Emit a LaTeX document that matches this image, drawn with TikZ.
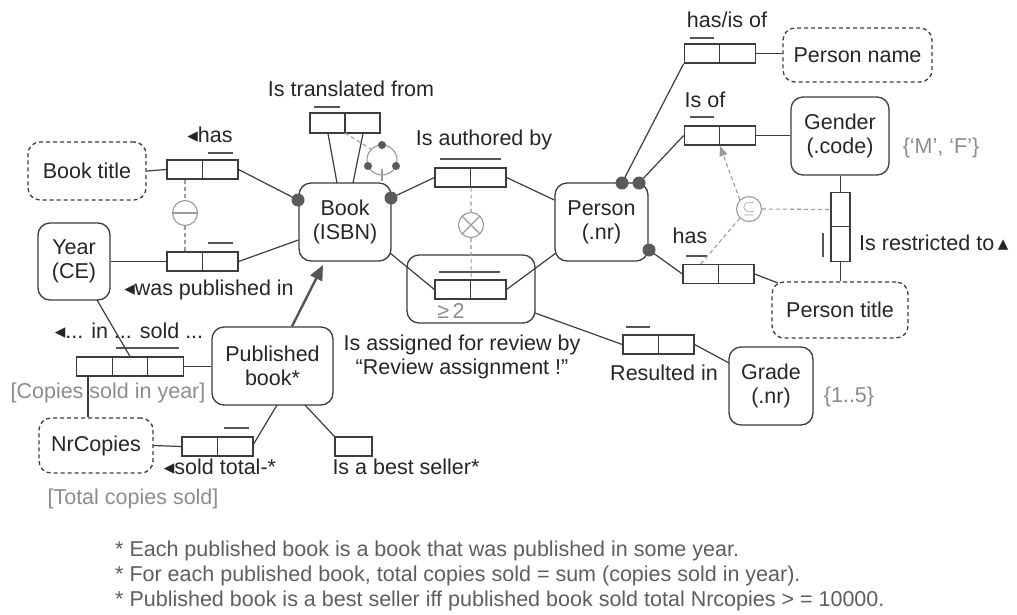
\documentclass[tikz,border=0pt]{standalone}
\usepackage{fontspec}
\setmainfont{Liberation Sans}
\newfontfamily\symfont{DejaVu Sans}
\usetikzlibrary{arrows.meta}

\definecolor{linec}{HTML}{3C3C3C}
\definecolor{txt}{HTML}{262626}
\definecolor{grayt}{HTML}{8C8C8C}
\definecolor{consc}{HTML}{9A9A9A}
\definecolor{barc}{HTML}{555555}
\definecolor{dotc}{HTML}{5A5A5A}
\definecolor{notec}{HTML}{5E5E5E}

% reading-direction markers
\newcommand{\rdl}{{\symfont\fontsize{21}{21}\selectfont ◂}}
\newcommand{\rup}{{\symfont\fontsize{21}{21}\selectfont ▴}}

\begin{document}
\begin{tikzpicture}[x=1pt,y=-1pt,
  font=\fontsize{21.5}{24}\selectfont,
  ent/.style={draw=linec, line width=1.3pt, rounded corners=12pt, inner sep=0pt, align=center, text=txt},
  val/.style={ent, dash pattern=on 4pt off 3pt},
  role/.style={draw=linec, line width=1.2pt, minimum width=35.5pt, minimum height=19pt, inner sep=0pt},
  vrole/.style={draw=linec, line width=1.2pt, minimum width=19pt, minimum height=34.5pt, inner sep=0pt},
  conn/.style={draw=linec, line width=1.2pt},
  ubar/.style={draw=barc, line width=1.5pt},
  cons/.style={draw=consc, line width=1.1pt},
  consl/.style={draw=consc, line width=1.1pt, dash pattern=on 4pt off 3pt},
  lbl/.style={text=txt, inner sep=0pt, align=center},
  note/.style={text=grayt, inner sep=0pt},
  mand/.style={circle, fill=dotc, inner sep=0pt, minimum size=13pt},
  ringdot/.style={circle, fill=dotc, inner sep=0pt, minimum size=8pt},
]
\useasboundingbox (0,0) rectangle (1017,614);

% ---------- object types ----------
\node[val, minimum width=118pt, minimum height=58pt] (booktitle) at (87,171) {Book title};
\node[ent, minimum width=92pt, minimum height=78pt] (book) at (345,222) {Book\\(ISBN)};
\node[ent, minimum width=72pt, minimum height=77pt] (year) at (74,261.5) {Year\\(CE)};
\node[ent, minimum width=121pt, minimum height=78pt] (pubbook) at (272.5,366) {Published\\book*};
\node[val, minimum width=114pt, minimum height=55pt] (nrcopies) at (96,445.5) {NrCopies};
\node[ent, minimum width=93pt, minimum height=78pt] (person) at (601.5,222) {Person\\(.nr)};
\node[val, minimum width=149pt, minimum height=54pt] (personname) at (857.5,55) {Person name};
\node[ent, minimum width=98pt, minimum height=78pt] (gender) at (840,136) {Gender\\(.code)};
\node[val, minimum width=136pt, minimum height=56pt] (persontitle) at (840,310) {Person title};
\node[ent, minimum width=84pt, minimum height=78pt] (grade) at (771,386) {Grade\\(.nr)};
\node[ent, minimum width=128pt, minimum height=68pt] (review) at (471,289) {};

% ---------- fact types (roles) ----------
\node[role] (hasA) at (184.75,169.5) {};
\node[role] (hasB) at (220.25,169.5) {};
\node[role] (pubA) at (184.75,261.5) {};
\node[role] (pubB) at (220.25,261.5) {};
\node[role, minimum width=35pt, minimum height=20pt] (transA) at (327.5,123) {};
\node[role, minimum width=35pt, minimum height=20pt] (transB) at (362.5,123) {};
\node[role] (authA) at (452.75,177.5) {};
\node[role] (authB) at (488.25,177.5) {};
\node[role] (revA) at (452.75,289.5) {};
\node[role] (revB) at (488.25,289.5) {};
\node[role] (nameA) at (702,53.5) {};
\node[role] (nameB) at (737.5,53.5) {};
\node[role] (isofA) at (702,135.5) {};
\node[role] (isofB) at (737.5,135.5) {};
\node[role] (ptA) at (700.75,274) {};
\node[role] (ptB) at (736.25,274) {};
\node[role] (resA) at (640.75,344.5) {};
\node[role] (resB) at (676.25,344.5) {};
\node[vrole] (restrA) at (840.5,209.5) {};
\node[vrole] (restrB) at (840.5,244) {};
\node[role] (soldA) at (94.5,366.5) {};
\node[role] (soldB) at (130,366.5) {};
\node[role] (soldC) at (165.5,366.5) {};
\node[role] (totA) at (199.75,446.5) {};
\node[role] (totB) at (235.25,446.5) {};
\node[role, minimum width=37pt] (best) at (353.5,446.5) {};

% ---------- uniqueness bars ----------
\draw[ubar] (208,153) -- (233,153);
\draw[ubar] (208,243) -- (233,243);
\draw[ubar] (314,107) -- (340,107);
\draw[ubar] (440,159) -- (501,159);
\draw[ubar] (439,272) -- (500,272);
\draw[ubar] (690,38) -- (714,38);
\draw[ubar] (690,117) -- (714,117);
\draw[ubar] (686,256) -- (707,256);
\draw[ubar] (626,327) -- (650,327);
\draw[ubar] (823,233) -- (823,257);
\draw[ubar] (116,348) -- (179,348);
\draw[ubar] (224,428) -- (249,428);

% ---------- mandatory role dots ----------
\coordinate (bookL) at (298,200);
\coordinate (bookR) at (391,198);
\coordinate (persT1) at (622,183);
\coordinate (persT2) at (639,183);
\coordinate (persR) at (649,250);

% ---------- connectors ----------
\draw[conn] (booktitle.east) -- (hasA.west);
\draw[conn] (hasB.east) -- (bookL);
\draw[conn] (year.east |- pubA.west) -- (pubA.west);
\draw[conn] (pubB.east) -- (book.west |- 0,240);
\draw[conn] (transA.south -| 328,0) -- (337,183);
\draw[conn] (transB.south -| 363,0) -- (353,183);
\draw[conn] (bookR) -- (authA.west);
\draw[conn] (authB.east) -- (person.west |- 0,200);
\draw[conn] (390,253) -- (revA.west);
\draw[conn] (revB.east) -- (556,253);
\draw[conn] (535,313) -- (resA.west);
\draw[conn] (resB.east) -- (729,363);
\draw[conn] (97,300) -- (soldB.north);
\draw[conn] (soldC.east) -- (pubbook.west |- soldC.east);
\draw[conn] (soldA.south -| 88,0) -- (nrcopies.north -| 88,0);
\draw[conn] (nrcopies.east) -- (totA.west);
\draw[conn] (253,445) -- (277,405);
\draw[conn] (305,405) -- (best.north west);
\draw[conn] (persT1) -- (nameA.south west);
\draw[conn] (persT2) -- (isofA.west);
\draw[conn] (nameB.east) -- (personname.west |- nameB.east);
\draw[conn] (isofB.east) -- (gender.west |- isofB.east);
\draw[conn] (persR) -- (ptA.west);
\draw[conn] (ptB.east) -- (778,283);
\draw[conn] (gender.south -| restrA.north) -- (restrA.north);
\draw[conn] (restrB.south) -- (persontitle.north -| restrB.south);

\foreach \p in {bookL,bookR,persT1,persT2,persR} \node[mand] at (\p) {};

% subtype arrow
\draw[draw=barc, line width=2.4pt, -{Triangle[length=15pt,width=13pt]}] (pubbook.north -| 292,0) -- (323,265);

% ---------- constraints ----------
% equality
\node[circle, cons, minimum size=25pt, inner sep=0pt] (eq) at (185,213) {};
\draw[cons] (eq.west) -- (eq.east);
\draw[consl] (hasA.south -| 185,0) -- (eq.north);
\draw[consl] (eq.south) -- (pubA.north -| 185,0);
% ring constraint
\node[circle, cons, minimum size=30pt, inner sep=0pt] (ring) at (382,160) {};
\node[ringdot] at (382,145) {};
\node[ringdot] at (368,166) {};
\node[ringdot] at (396,166) {};
\draw[cons] (382,169) -- (382,181);
\draw[consl] (345,133) -- (ring.north west);
% exclusion
\node[circle, cons, minimum size=25pt, inner sep=0pt] (excl) at (471,225) {};
\draw[cons] (excl.north west) -- (excl.south east);
\draw[cons] (excl.north east) -- (excl.south west);
\draw[consl] (authA.south east) -- (excl.north);
\draw[consl] (excl.south) -- (revA.north east);
% subset
\node[circle, cons, minimum size=25pt, inner sep=0pt, text=consc, font=\fontsize{18}{18}\selectfont] (sub) at (749,209) {$\subseteq$};
\draw[consl] (sub.east) -- (restrA.west);
\draw[consl] (sub.south west) -- (ptA.north);
\draw[consl, -{Triangle[length=10pt,width=8pt]}] (sub.north west) -- (720,146);

% ---------- labels ----------
\node[lbl] (lTrans) at (351,89) {Is translated from};
\node[lbl] (lHas) at (210,135) {\rdl has};
\node[lbl] (lPub) at (209,290) {\rdl was published in};
\node[lbl] (lSold) at (129,331) {\rdl... in ... sold ...};
\node[note] (lCopies) at (108,393) {[Copies sold in year]};
\node[lbl] (lTot) at (220,467) {\rdl sold total-*};
\node[lbl] (lBest) at (406,467) {Is a best seller*};
\node[note] (lTotal) at (133,499) {[Total copies sold]};
\node[lbl] (lAuth) at (484,140) {Is authored by};
\node[note] (lGe2) at (451,311) {≥\,2};
\node[lbl] (lRev) at (462,357) {Is assigned for review by\\“Review assignment !”};
\node[lbl] (lName) at (727,20) {has/is of};
\node[lbl] (lIsof) at (705,100) {Is of};
\node[note] (lMF) at (941,148) {\{‘M’, ‘F’\}};
\node[lbl] (lPtHas) at (690,236) {has};
\node[lbl, anchor=west] (lRestr) at (859,243) {Is restricted to\,\rup};
\node[lbl] (lRes) at (664,373) {Resulted in};
\node[note] (lGrade) at (849,397) {\{1..5\}};

% ---------- footnotes ----------
\node[text=notec, inner sep=0pt, anchor=base west] (f1) at (115,556) {* Each published book is a book that was published in some year.};
\node[text=notec, inner sep=0pt, anchor=base west] (f2) at (115,581) {* For each published book, total copies sold = sum (copies sold in year).};
\node[text=notec, inner sep=0pt, anchor=base west] (f3) at (115,606) {* Published book is a best seller iff published book sold total Nrcopies > = 10000.};
\end{tikzpicture}
\end{document}
